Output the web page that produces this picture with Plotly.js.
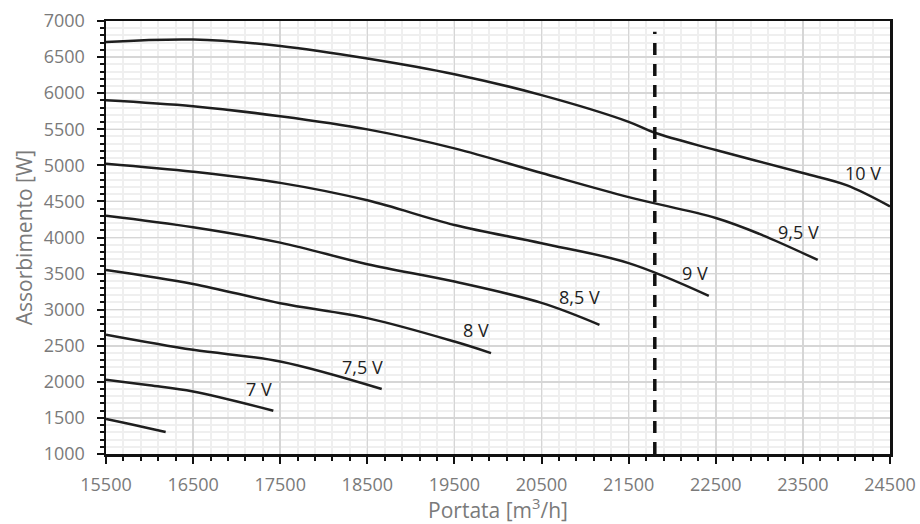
<!DOCTYPE html>
<html>
<head>
<meta charset="utf-8">
<script src="https://cdn.plot.ly/plotly-3.0.1.min.js"></script>
<style>html,body{margin:0;padding:0;background:#fff;}#chart{width:920px;height:524px;}</style>
</head>
<body>
<div id="chart"></div>
<script>
// Curves: flow [m3/h] and power [W] for each fan voltage
const x65 = [15500, 15850, 16185];
const y65 = [1484, 1395, 1304];
const x70 = [15500, 16000, 16500, 17421];
const y70 = [2028, 1952, 1866, 1600];
const x75 = [15500, 16500, 17500, 18665];
const y75 = [2653, 2443, 2282, 1900];
const x80 = [15500, 16500, 17500, 18500, 19500, 19920];
const y80 = [3551, 3357, 3090, 2883, 2558, 2398];
const x85 = [15500, 16500, 17500, 18500, 19500, 20500, 21165];
const y85 = [4302, 4142, 3929, 3630, 3389, 3094, 2790];
const x90 = [15500, 16500, 17500, 18500, 19500, 20500, 21500, 22420];
const y90 = [5022, 4911, 4757, 4515, 4173, 3921, 3645, 3191];
const x95 = [15500, 16500, 17500, 18500, 19500, 20500, 21500, 22500, 23000, 23670];
const y95 = [5903, 5820, 5680, 5498, 5235, 4893, 4560, 4270, 4050, 3689];
const x100 = [15500, 16500, 17500, 18500, 19500, 20500, 21500, 21800, 22500, 23500, 24000, 24500];
const y100 = [6710, 6743, 6655, 6481, 6263, 5973, 5603, 5451, 5212, 4893, 4725, 4430];

// Reference flow (dashed vertical)
const refX = [21800, 21800];
const refY = [1000, 6850];

// Curve labels and where they sit (data units)
const labelText = ["10 V", "9,5 V", "9 V", "8,5 V", "8 V", "7,5 V", "7 V"];
const labelX = [24190, 23450, 22260, 20940, 19750, 18450, 17260];
const labelY = [4893, 4077, 3513, 3181, 2720, 2212, 1900];

const xTicks = [15500, 16500, 17500, 18500, 19500, 20500, 21500, 22500, 23500, 24500];
const yTicks = [1000, 1500, 2000, 2500, 3000, 3500, 4000, 4500, 5000, 5500, 6000, 6500, 7000];

const curves = [[x65,y65],[x70,y70],[x75,y75],[x80,y80],[x85,y85],[x90,y90],[x95,y95],[x100,y100]];
const traces = curves.map(c => ({
  x: c[0], y: c[1], type: 'scatter', mode: 'lines',
  line: {color: '#1e1e1e', width: 2.5, shape: 'spline', smoothing: 1},
  hoverinfo: 'skip', showlegend: false
}));
traces.push({
  x: refX, y: refY, type: 'scatter', mode: 'lines',
  line: {color: '#111', width: 3.5, dash: '12px,9px'},
  hoverinfo: 'skip', showlegend: false
});

const annotations = labelText.map((t, i) => ({
  x: labelX[i], y: labelY[i], xref: 'x', yref: 'y', text: t, showarrow: false,
  font: {family: 'Open Sans, sans-serif', size: 18, color: '#1e1e1e'},
  xanchor: 'center', yanchor: 'middle'
}));

const axisFont = {family: 'Open Sans, sans-serif', size: 18, color: '#7a7a7a'};
const layout = {
  width: 920, height: 524,
  margin: {l: 106, r: 30, t: 21, b: 70},
  paper_bgcolor: '#fff', plot_bgcolor: '#fff',
  showlegend: false,
  annotations: annotations,
  xaxis: {
    range: [15500, 24500], tickvals: xTicks, ticktext: xTicks.map(String),
    tickfont: axisFont, ticks: 'outside', ticklen: 7, tickwidth: 2, tickcolor: '#111',
    showline: true, linecolor: '#111', linewidth: 2.5, mirror: true,
    showgrid: true, gridcolor: '#d6d6d6', gridwidth: 1.5,
    minor: {dtick: 200, tick0: 15500, ticks: 'outside', ticklen: 4, tickwidth: 2, tickcolor: '#111', showgrid: true, gridcolor: '#efefef', gridwidth: 2},
    zeroline: false, ticklabelstandoff: 6,
    title: {text: 'Portata [m<sup>3</sup>/h]', font: {family: 'Open Sans, sans-serif', size: 21, color: '#7a7a7a'}, standoff: 9}
  },
  yaxis: {
    range: [1000, 7000], tickvals: yTicks, ticktext: yTicks.map(String),
    tickfont: axisFont, ticks: 'outside', ticklen: 7, tickwidth: 2, tickcolor: '#111',
    showline: true, linecolor: '#111', linewidth: 2.5, mirror: true,
    showgrid: true, gridcolor: '#d6d6d6', gridwidth: 1.5,
    minor: {dtick: 100, tick0: 1000, ticks: 'outside', ticklen: 4, tickwidth: 2, tickcolor: '#111', showgrid: true, gridcolor: '#efefef', gridwidth: 2},
    zeroline: false, ticklabelstandoff: 8,
    title: {text: 'Assorbimento [W]', font: {family: 'Open Sans, sans-serif', size: 21, color: '#7a7a7a'}, standoff: 6}
  }
};

Plotly.newPlot('chart', traces, layout, {displayModeBar: false, staticPlot: true});
</script>
</body>
</html>
